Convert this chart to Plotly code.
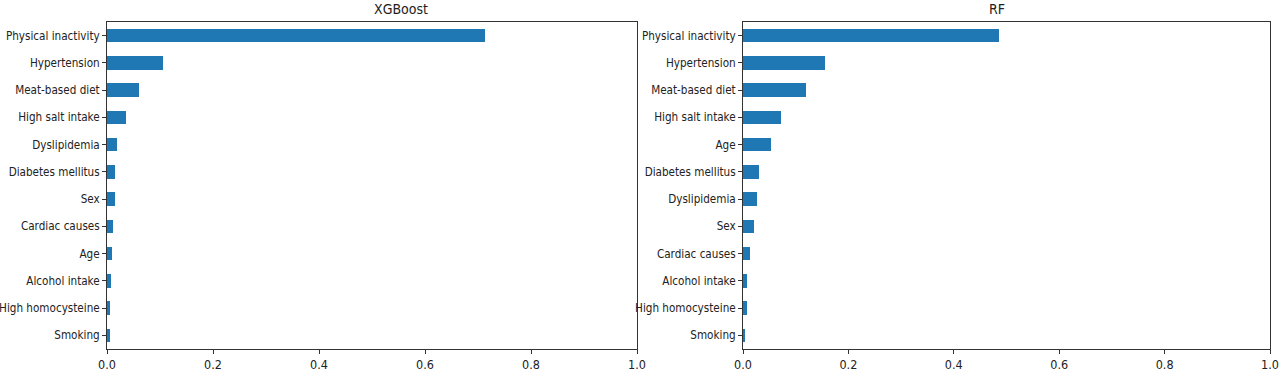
import plotly.graph_objects as go

xgb_features = ["Physical inactivity", "Hypertension", "Meat-based diet", "High salt intake",
                "Dyslipidemia", "Diabetes mellitus", "Sex", "Cardiac causes", "Age",
                "Alcohol intake", "High homocysteine", "Smoking"]
xgb_values = [0.713, 0.106, 0.060, 0.036, 0.019, 0.015, 0.015, 0.011, 0.009, 0.008, 0.005, 0.005]

rf_features = ["Physical inactivity", "Hypertension", "Meat-based diet", "High salt intake",
               "Age", "Diabetes mellitus", "Dyslipidemia", "Sex", "Cardiac causes",
               "Alcohol intake", "High homocysteine", "Smoking"]
rf_values = [0.485, 0.155, 0.119, 0.072, 0.053, 0.030, 0.026, 0.021, 0.013, 0.007, 0.007, 0.003]

x_ticks = [0.0, 0.2, 0.4, 0.6, 0.8, 1.0]
x_ticklabels = ["0.0", "0.2", "0.4", "0.6", "0.8", "1.0"]

BLUE = "#1f77b4"
FONT = "DejaVu Sans Condensed, DejaVu Sans, sans-serif"

fig = go.Figure()
fig.add_trace(go.Bar(y=list(range(len(xgb_features))), x=xgb_values, orientation="h",
                     marker=dict(color=BLUE, line=dict(width=0)), width=0.5,
                     xaxis="x", yaxis="y", showlegend=False))
fig.add_trace(go.Bar(y=list(range(len(rf_features))), x=rf_values, orientation="h",
                     marker=dict(color=BLUE, line=dict(width=0)), width=0.5,
                     xaxis="x2", yaxis="y2", showlegend=False))

ydom = [1 - 349 / 373, 1 - 22 / 373]
common_x = dict(range=[0, 1], tickvals=x_ticks, ticktext=x_ticklabels, showgrid=False,
                zeroline=False, showline=True, linecolor="#333", linewidth=1, mirror=True,
                ticks="outside", ticklen=4, tickcolor="#333", automargin=False,
                tickfont=dict(family=FONT, size=12.5, color="#222"), fixedrange=True)
common_y = dict(range=[11.5, -0.5], showgrid=False, zeroline=False, showline=True,
                linecolor="#333", linewidth=1, mirror=True, ticks="outside", ticklen=4,
                tickcolor="#333", tickfont=dict(family=FONT, size=11.6, color="#222"),
                domain=ydom, fixedrange=True, automargin=False)

fig.update_layout(
    width=1280, height=373,
    margin=dict(l=0, r=0, t=0, b=0),
    paper_bgcolor="white", plot_bgcolor="white",
    bargap=0,
    xaxis=dict(domain=[107 / 1280, 637 / 1280], anchor="y", **common_x),
    yaxis=dict(anchor="x", tickvals=list(range(len(xgb_features))), ticktext=xgb_features, **common_y),
    xaxis2=dict(domain=[743 / 1280, 1270 / 1280], anchor="y2", **common_x),
    yaxis2=dict(anchor="x2", tickvals=list(range(len(rf_features))), ticktext=rf_features, **common_y),
    annotations=[
        dict(text="XGBoost", x=(107 + 637) / 2 / 1280, y=1 - 9 / 373, xref="paper", yref="paper",
             showarrow=False, font=dict(family=FONT, size=14, color="#222"), yanchor="middle"),
        dict(text="RF", x=(743 + 1270) / 2 / 1280, y=1 - 9 / 373, xref="paper", yref="paper",
             showarrow=False, font=dict(family=FONT, size=14, color="#222"), yanchor="middle"),
    ],
)

fig.write_html("out.html", config={"displayModeBar": False},
               post_script="document.body.style.margin='0';document.body.style.overflow='hidden';")
